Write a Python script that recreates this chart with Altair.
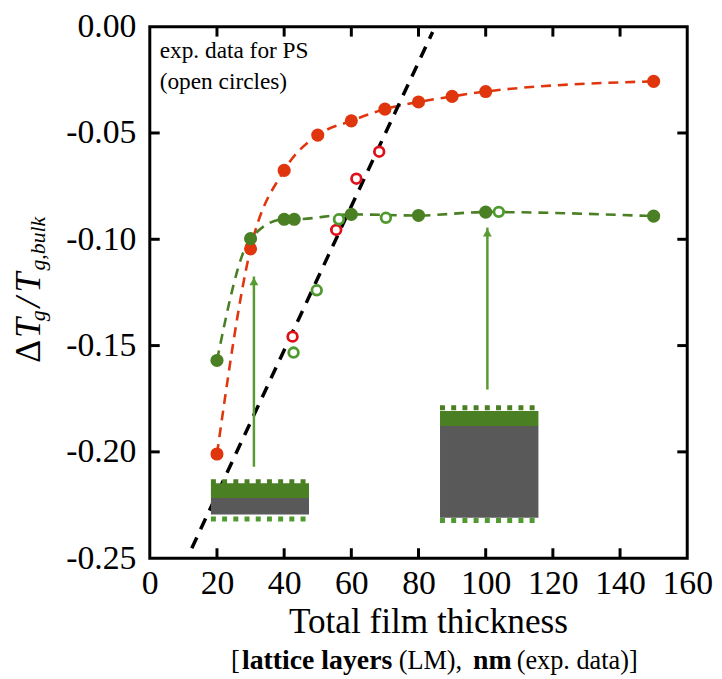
import altair as alt
import pandas as pd

# ---------------- data ----------------
# filled circles: lattice model (LM)
red_lm_x = [20, 30, 40, 50, 60, 70, 80, 90, 100, 150]
red_lm_y = [-0.201, -0.1045, -0.0676, -0.051, -0.0443, -0.0388, -0.0354, -0.0328, -0.0305, -0.0257]
green_lm_x = [20, 30, 40, 43, 60, 80, 100, 150]
green_lm_y = [-0.157, -0.0997, -0.0906, -0.0906, -0.0883, -0.0888, -0.0872, -0.0891]
# open circles: experimental data for PS
red_exp_x = [42.5, 55.5, 61.5, 68.3]
red_exp_y = [-0.1458, -0.0956, -0.0715, -0.0588]
green_exp_x = [42.8, 49.7, 56.3, 70.3, 103.9]
green_exp_y = [-0.1533, -0.124, -0.0906, -0.0899, -0.0871]
# black dashed guide line
guide_x = [12.5, 84.2]
guide_y = [-0.2453, -0.0025]
# arrows
arrow_x = [31, 100.5]
arrow_from = [-0.207, -0.1707]
arrow_to = [-0.1175, -0.0945]
# film sketches
film_x1 = [18.2, 86.4]
film_x2 = [47.4, 115.7]
film_green_top = [-0.2148, -0.1808]
film_green_bot = [-0.2217, -0.1878]
film_gray_bot = [-0.2295, -0.2310]
film_top_edge = [-0.2140, -0.1792]
film_bot_edge = [-0.2316, -0.2323]
# axis ticks
x_ticks = [0, 20, 40, 60, 80, 100, 120, 140, 160]
y_ticks = [-0.25, -0.20, -0.15, -0.10, -0.05, 0.0]
x_inner = [20, 40, 60, 80, 100, 120, 140]
y_inner = [-0.20, -0.15, -0.10, -0.05]

RED = "#e0360e"
RED_OPEN = "#e0101a"
GREEN = "#4a7f24"
GREEN_OPEN = "#4e9a2e"
GREEN_ARROW = "#5a9a32"
GRAY = "#595959"
FONT = "Liberation Serif"

W, H = 542, 536

xs = alt.Scale(domain=[0, 160], nice=False, zero=False)
ys = alt.Scale(domain=[-0.25, 0], nice=False, zero=False)
xaxis = alt.Axis(values=x_ticks, title=None, ticks=False, domain=False, grid=False,
                 labelFlush=False, labelOverlap=False, labelFont=FONT, labelFontSize=34,
                 labelColor="black", labelPadding=9)
yaxis = alt.Axis(values=y_ticks, title=None, ticks=False, domain=False, grid=False,
                 labelFlush=False, labelOverlap=False, labelFont=FONT, labelFontSize=34,
                 labelColor="black", labelPadding=14,
                 labelExpr="datum.value == 0 ? '0.00' : '-' + format(-datum.value, '.2f')")


def X(f):
    return alt.X(f, type="quantitative", scale=xs, axis=xaxis)


def Y(f):
    return alt.Y(f, type="quantitative", scale=ys, axis=yaxis)


red_lm = pd.DataFrame({"x": red_lm_x, "y": red_lm_y})
green_lm = pd.DataFrame({"x": green_lm_x, "y": green_lm_y})
red_exp = pd.DataFrame({"x": red_exp_x, "y": red_exp_y})
green_exp = pd.DataFrame({"x": green_exp_x, "y": green_exp_y})
guide = pd.DataFrame({"x": guide_x, "y": guide_y})
arrows = pd.DataFrame({"x": arrow_x, "y0": arrow_from, "y1": arrow_to})
films = pd.DataFrame({"x1": film_x1, "x2": film_x2, "gt": film_green_top, "gb": film_green_bot,
                      "grb": film_gray_bot, "te": film_top_edge, "be": film_bot_edge})
xin = pd.DataFrame({"x": x_inner})
yin = pd.DataFrame({"y": y_inner})

layers = []
layers.append(alt.Chart(red_lm).mark_line(color=RED, strokeDash=[10, 7], strokeWidth=2.6,
                                          interpolate="monotone").encode(x=X("x"), y=Y("y")))
layers.append(alt.Chart(green_lm).mark_line(color=GREEN, strokeDash=[10, 7], strokeWidth=2.6,
                                            interpolate="monotone").encode(x=X("x"), y=Y("y")))
layers.append(alt.Chart(guide).mark_line(color="black", strokeDash=[12, 9], strokeWidth=3.5)
              .encode(x=X("x"), y=Y("y")))
# films
layers.append(alt.Chart(films).mark_rect(color=GRAY).encode(
    x=X("x1"), x2="x2", y=Y("gb"), y2="grb"))
layers.append(alt.Chart(films).mark_rect(color=GREEN).encode(
    x=X("x1"), x2="x2", y=Y("gt"), y2="gb"))
layers.append(alt.Chart(films).mark_rule(color=GREEN, strokeWidth=5, strokeDash=[5, 6.3]).encode(
    x=X("x1"), x2="x2", y=Y("te")))
layers.append(alt.Chart(films).mark_rule(color=GREEN_OPEN, strokeWidth=5, strokeDash=[5, 6.3]).encode(
    x=X("x1"), x2="x2", y=Y("be")))
# arrows
layers.append(alt.Chart(arrows).mark_rule(color=GREEN_ARROW, strokeWidth=2.5).encode(
    x=X("x"), y=Y("y0"), y2="y1"))
layers.append(alt.Chart(arrows).mark_point(shape="triangle-up", filled=True, color=GREEN_ARROW,
                                           size=80, opacity=1, yOffset=5).encode(x=X("x"), y=Y("y1")))
# points
layers.append(alt.Chart(red_lm).mark_circle(color=RED, size=175, opacity=1).encode(x=X("x"), y=Y("y")))
layers.append(alt.Chart(green_lm).mark_circle(color=GREEN, size=175, opacity=1).encode(x=X("x"), y=Y("y")))
layers.append(alt.Chart(red_exp).mark_point(shape="circle", fill="white", fillOpacity=1, stroke=RED_OPEN,
                                            strokeWidth=2.8, size=95, opacity=1).encode(x=X("x"), y=Y("y")))
layers.append(alt.Chart(green_exp).mark_point(shape="circle", fill="white", fillOpacity=1, stroke=GREEN_OPEN,
                                              strokeWidth=2.8, size=95, opacity=1).encode(x=X("x"), y=Y("y")))
# inward ticks on all four sides
layers.append(alt.Chart(xin).mark_rule(color="black", strokeWidth=3).encode(
    x=X("x"), y=alt.value(H), y2=alt.value(H - 10)))
layers.append(alt.Chart(xin).mark_rule(color="black", strokeWidth=3).encode(
    x=X("x"), y=alt.value(0), y2=alt.value(10)))
layers.append(alt.Chart(yin).mark_rule(color="black", strokeWidth=3).encode(
    y=Y("y"), x=alt.value(0), x2=alt.value(10)))
layers.append(alt.Chart(yin).mark_rule(color="black", strokeWidth=3).encode(
    y=Y("y"), x=alt.value(W), x2=alt.value(W - 10)))


def label(text, x, y, size, angle=0, **kw):
    props = dict(font=FONT, fontSize=size, align="left", baseline="alphabetic", color="black")
    if angle:
        props["angle"] = angle
    props.update(kw)
    return alt.Chart(pd.DataFrame({"t": [text]})).mark_text(**props).encode(
        x=alt.value(x), y=alt.value(y), text="t:N")


# annotation
layers.append(label("exp. data for PS", 10, 32, 23.5))
layers.append(label("(open circles)", 10, 63, 23.5))
# x title
layers.append(label("Total film thickness", 281, 611, 35.5, align="center"))
# subtitle with bold parts
layers.append(label("[", 82, 648, 26.5))
layers.append(label("lattice layers", 93, 648, 28, fontWeight="bold"))
layers.append(label("(LM),", 251, 648, 26.5))
layers.append(label("nm", 326, 648, 28, fontWeight="bold"))
layers.append(label("(exp. data)]", 370, 648, 26.5))
# y title: ΔT_g / T_g,bulk
layers.append(label("\u0394", -111, 339, 36, angle=270))
layers.append(label("T", -111, 314, 36, angle=270, fontStyle="italic"))
layers.append(label("g", -106, 297, 22, angle=270, fontStyle="italic"))
layers.append(label("/", -111, 283, 36, angle=270, fontStyle="italic"))
layers.append(label("T", -111, 268, 36, angle=270, fontStyle="italic"))
layers.append(label("g,bulk", -106, 246, 22, angle=270, fontStyle="italic"))

chart = alt.layer(*layers).properties(
    width=W, height=H,
    autosize=alt.AutoSizeParams(type="none"),
    padding={"left": 143, "top": 16, "right": 27, "bottom": 118},
    background="white",
).configure_view(stroke="black", strokeWidth=3)

chart.save("out.html", embed_options={"renderer": "svg", "actions": False})
